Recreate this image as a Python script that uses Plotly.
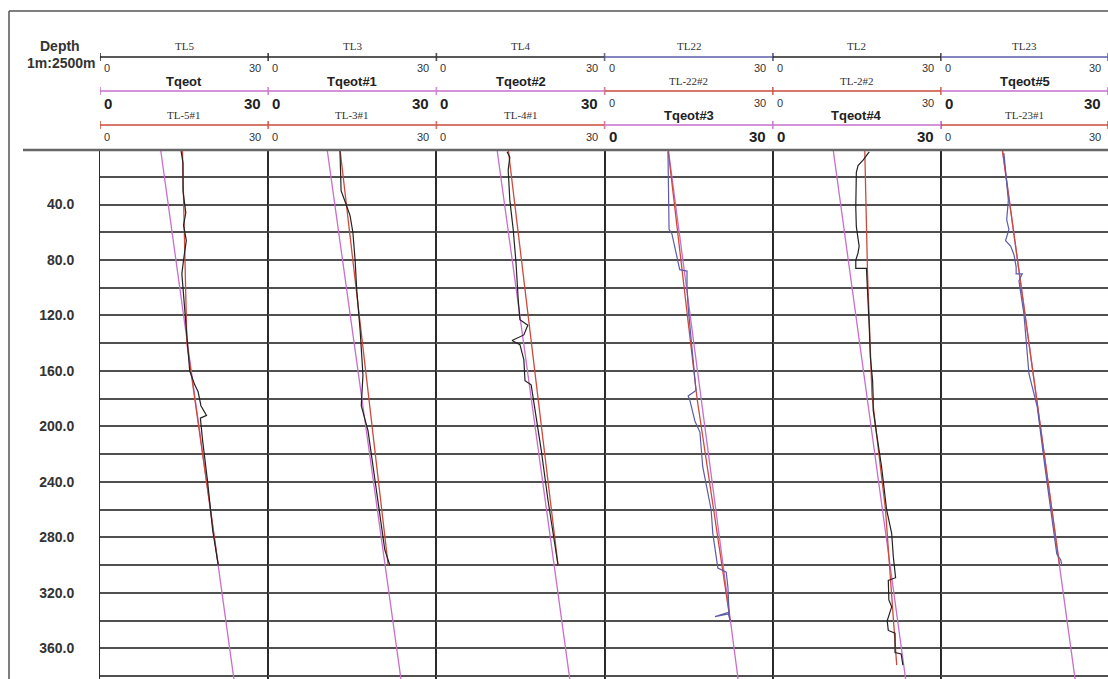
import plotly.graph_objects as go
from plotly.subplots import make_subplots

W, H = 1108, 679

# ---------------- data ----------------
track_names = ["TL5", "TL3", "TL4", "TL22", "TL2", "TL23"]
header_rows = [
    [("TL5", "meas"), ("Tqeot", "tq"), ("TL-5#1", "fit")],
    [("TL3", "meas"), ("Tqeot#1", "tq"), ("TL-3#1", "fit")],
    [("TL4", "meas"), ("Tqeot#2", "tq"), ("TL-4#1", "fit")],
    [("TL22", "meas"), ("TL-22#2", "fit"), ("Tqeot#3", "tq")],
    [("TL2", "meas"), ("TL-2#2", "fit"), ("Tqeot#4", "tq")],
    [("TL23", "meas"), ("Tqeot#5", "tq"), ("TL-23#1", "fit")],
]
meas_colors = ["#222222", "#222222", "#222222", "#5b5ba8", "#222222", "#5b5ba8"]

# measured temperature logs (depth m, temperature C)
meas_depth = [
    [0, 3, 10, 30, 46, 55, 66, 80, 90, 110, 130, 150, 160, 170, 175, 185, 192, 194, 210, 240, 275, 300],
    [1, 30, 40, 48, 60, 80, 102, 131, 163, 185, 203, 239, 268, 289, 300],
    [2, 6, 15, 37, 58, 82, 109, 123, 127, 134, 138, 141, 152, 167, 170, 188, 217, 253, 275, 300],
    [2, 37, 58, 61, 87, 88, 100, 114, 174, 178, 181, 196, 204, 229, 260, 277, 302, 305, 316, 335, 337, 334, 340],
    [2, 8, 12, 17, 42, 56, 70, 75, 80, 86, 86, 106, 128, 150, 167, 179, 188, 205, 229, 260, 277, 294, 309, 311,
     325, 330, 335, 340, 347, 349, 363, 364, 372],
    [3, 25, 37, 51, 58, 66, 70, 76, 85, 90, 90, 95, 119, 162, 186, 230, 270, 292, 296, 300],
]
meas_temp = [
    [14.4, 14.5, 14.8, 14.8, 15.3, 14.9, 15.4, 14.9, 14.6, 15.0, 15.4, 15.7, 16.0, 16.9, 17.5, 18.0, 19.0, 17.9,
     18.3, 19.2, 20.1, 21.1],
    [12.8, 13.0, 13.9, 14.6, 15.1, 15.5, 15.8, 16.4, 16.9, 16.6, 17.8, 19.0, 20.1, 20.8, 21.7],
    [12.6, 13.1, 12.8, 13.1, 13.7, 14.2, 14.6, 14.9, 16.3, 15.6, 13.5, 14.9, 15.6, 15.8, 16.9, 17.6, 18.7, 19.9,
     20.8, 21.7],
    [11.3, 11.5, 11.5, 12.0, 13.4, 14.7, 14.7, 14.9, 16.3, 14.9, 15.2, 16.1, 17.0, 17.5, 19.0, 19.3, 20.2, 21.7,
     22.0, 22.2, 19.7, 22.0, 22.4],
    [17.2, 16.1, 15.2, 14.9, 14.8, 14.9, 15.4, 15.2, 14.8, 14.8, 16.7, 17.0, 17.2, 17.4, 17.8, 17.9, 17.9, 18.5,
     19.4, 20.3, 21.2, 21.5, 21.9, 20.6, 20.7, 21.2, 20.8, 20.4, 20.6, 21.8, 21.8, 22.9, 23.2],
    [11.3, 11.8, 12.1, 11.8, 12.2, 11.6, 12.5, 13.1, 13.5, 13.5, 14.6, 14.0, 14.9, 15.8, 17.3, 18.7, 20.1, 20.8,
     21.5, 21.7],
]

# fitted temperature lines (red)
fit_depth = [
    [0, 140, 300],
    [0, 300],
    [0, 300],
    [0, 180, 340],
    [0, 90, 178, 260, 372],
    [0, 300],
]
fit_temp = [
    [14.7, 15.5, 21.1],
    [12.8, 21.4],
    [12.8, 21.7],
    [11.3, 16.5, 22.4],
    [16.4, 16.9, 17.7, 20.1, 22.1],
    [11.0, 21.3],
]

# Tqeot model lines (magenta)
tq_depth = [[0, 400]] * 6
tq_temp = [
    [10.8, 24.5],
    [10.5, 24.3],
    [10.8, 24.4],
    [11.35, 24.4],
    [10.75, 24.3],
    [11.0, 24.7],
]

depth_ticks = list(range(20, 381, 20))
depth_ticktext = ["" if d % 40 else "%.1f" % d for d in depth_ticks]
x_min, x_max = 0, 30
depth_max = 382

# ---------------- styling ----------------
C_TQ = "#c86ecc"
C_FIT = "#cc4a3c"
C_GRID = "#505050"
C_SEP = "#2a2a2a"

bounds_px = [100 + 168.2 * i for i in range(7)]
top_px = 149  # depth 0


def px2x(px):
    return px / W


def px2y(py):
    return 1 - py / H


fig = make_subplots(rows=1, cols=6, shared_yaxes=True, horizontal_spacing=0)

for i in range(6):
    col = i + 1
    fig.add_trace(go.Scatter(x=tq_temp[i], y=tq_depth[i], mode="lines",
                             line=dict(color=C_TQ, width=1.3), hoverinfo="skip"), row=1, col=col)
    fig.add_trace(go.Scatter(x=fit_temp[i], y=fit_depth[i], mode="lines",
                             line=dict(color=C_FIT, width=1.3), hoverinfo="skip"), row=1, col=col)
    fig.add_trace(go.Scatter(x=meas_temp[i], y=meas_depth[i], mode="lines",
                             line=dict(color=meas_colors[i], width=1.2), hoverinfo="skip"), row=1, col=col)

for i in range(6):
    xa = "xaxis" if i == 0 else "xaxis%d" % (i + 1)
    ya = "yaxis" if i == 0 else "yaxis%d" % (i + 1)
    fig.layout[xa].update(domain=[px2x(bounds_px[i]), min(1.0, px2x(bounds_px[i + 1]))],
                          range=[x_min, x_max], showgrid=False, zeroline=False,
                          showticklabels=False, showline=False, ticks="")
    fig.layout[ya].update(domain=[0, px2y(top_px)], range=[depth_max, 0],
                          tickvals=depth_ticks, ticktext=["<b>%s</b>" % t if t else "" for t in depth_ticktext],
                          showgrid=True, gridcolor=C_GRID, gridwidth=2, zeroline=False,
                          showline=True, mirror=True, linecolor=C_SEP, linewidth=1,
                          ticks="", showticklabels=(i == 0),
                          tickfont=dict(family="Liberation Sans", size=14, color="#333"),
                          ticklabelstandoff=22)

shapes = []
annotations = []

# outer frame
shapes.append(dict(type="line", xref="paper", yref="paper", x0=px2x(9), x1=px2x(9), y0=0, y1=px2y(11),
                   line=dict(color="#555", width=1.5)))
shapes.append(dict(type="line", xref="paper", yref="paper", x0=px2x(9), x1=1, y0=px2y(11), y1=px2y(11),
                   line=dict(color="#555", width=1.5)))
# header separator
shapes.append(dict(type="line", xref="paper", yref="paper", x0=px2x(23), x1=1, y0=px2y(150), y1=px2y(150),
                   line=dict(color="#666", width=2.5)))

row_line_py = [57, 91, 125]
row_label_py = [46, 81, 115]
row_num_py = [68, 103, 137]

for i in range(6):
    xr = "x" if i == 0 else "x%d" % (i + 1)
    for r, (name, kind) in enumerate(header_rows[i]):
        if kind == "meas":
            color = meas_colors[i]
        elif kind == "tq":
            color = C_TQ
        else:
            color = C_FIT
        ly = px2y(row_line_py[r])
        shapes.append(dict(type="line", xref=xr, yref="paper", x0=x_min, x1=x_max, y0=ly, y1=ly,
                           line=dict(color=color, width=1.5)))
        for xv in (x_min, x_max):
            shapes.append(dict(type="line", xref=xr, yref="paper", x0=xv, x1=xv,
                               y0=px2y(row_line_py[r] - 4), y1=px2y(row_line_py[r] + 4),
                               line=dict(color=color, width=1.5)))
        if kind == "tq":
            lab_font = dict(family="Liberation Sans", size=13, color="#222")
            num_font = dict(family="Liberation Sans", size=15, color="#222")
            lab_text = "<b>%s</b>" % name
            n0, n1 = "<b>%d</b>" % x_min, "<b>%d</b>" % x_max
        else:
            lab_font = dict(family="Liberation Serif", size=11, color="#333")
            num_font = dict(family="Liberation Sans", size=11, color="#333")
            lab_text = name
            n0, n1 = "%d" % x_min, "%d" % x_max
        annotations.append(dict(xref=xr, yref="paper", x=(x_min + x_max) / 2, y=px2y(row_label_py[r]),
                                text=lab_text, showarrow=False, font=lab_font,
                                xanchor="center", yanchor="middle"))
        annotations.append(dict(xref=xr, yref="paper", x=x_min, y=px2y(row_num_py[r]), text=n0,
                                showarrow=False, font=num_font, xanchor="left", yanchor="middle", xshift=2))
        annotations.append(dict(xref=xr, yref="paper", x=x_max, y=px2y(row_num_py[r]), text=n1,
                                showarrow=False, font=num_font, xanchor="right", yanchor="middle", xshift=-5))

annotations.append(dict(xref="paper", yref="paper", x=px2x(60), y=px2y(46), text="<b>Depth</b>",
                        showarrow=False, font=dict(family="Liberation Sans", size=14, color="#333"),
                        xanchor="center", yanchor="middle"))
annotations.append(dict(xref="paper", yref="paper", x=px2x(61), y=px2y(63), text="<b>1m:2500m</b>",
                        showarrow=False, font=dict(family="Liberation Sans", size=14, color="#333"),
                        xanchor="center", yanchor="middle"))

fig.update_layout(width=W, height=H, margin=dict(l=0, r=0, t=0, b=0),
                  paper_bgcolor="white", plot_bgcolor="white", showlegend=False,
                  shapes=shapes, annotations=annotations)

fig.write_html("out.html")
